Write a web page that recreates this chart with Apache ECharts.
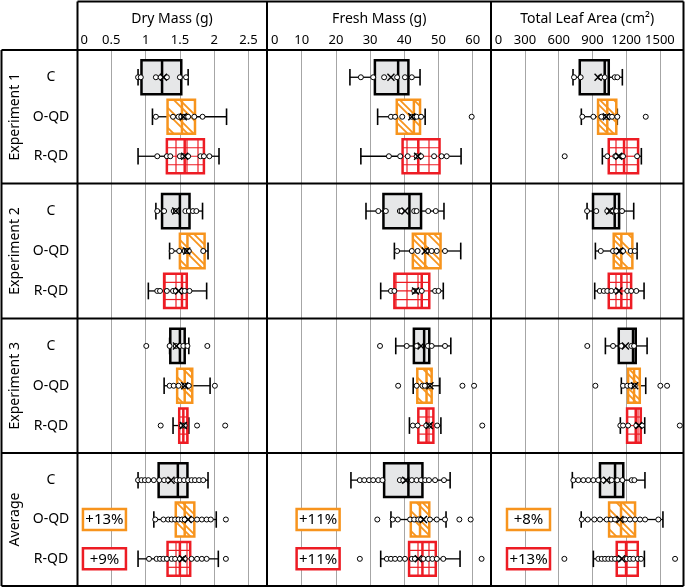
<!DOCTYPE html>
<html><head><meta charset="utf-8">
<script src="https://cdn.jsdelivr.net/npm/echarts@6/dist/echarts.min.js"></script>
<style>html,body{margin:0;padding:0;background:#fff}#c{width:685px;height:588px}</style>
</head><body><div id="c"></div>
<script>
// ---------- data ----------
const categories = ['C', 'O-QD', 'R-QD'];
const rowNames = ['Experiment 1', 'Experiment 2', 'Experiment 3', 'Average'];
const columnTitles = ['Dry Mass (g)', 'Fresh Mass (g)', 'Total Leaf Area (cm²)'];
const dryTicks = [0, 0.5, 1, 1.5, 2, 2.5];
const freshTicks = [0, 10, 20, 30, 40, 50, 60];
const leafTicks = [0, 300, 600, 900, 1200, 1500];

// box stats per group: [lower whisker, Q1, median, Q3, upper whisker]
const dryExp1Box = [[0.89,0.94,1.24,1.52,1.62],[1.10,1.32,1.53,1.72,2.18],[0.89,1.31,1.57,1.85,2.07]];
const dryExp1Mean = [1.26, 1.55, 1.57];
const dryExp1Pts = [[0.89,0.93,1.15,1.22,1.31,1.50,1.59],[1.15,1.40,1.48,1.52,1.56,1.62,1.71,1.83],[1.17,1.31,1.36,1.50,1.55,1.62,1.80,1.85,1.93]];
const dryExp2Box = [[1.15,1.24,1.50,1.64,1.83],[1.35,1.50,1.61,1.86,1.91],[1.04,1.27,1.53,1.60,1.89]];
const dryExp2Mean = [1.44, 1.60, 1.48];
const dryExp2Pts = [[1.17,1.27,1.41,1.44,1.58,1.63,1.69,1.74],[1.38,1.49,1.57,1.60,1.63,1.84],[1.17,1.21,1.31,1.40,1.44,1.53,1.57,1.64]];
const dryExp3Box = [[1.35,1.36,1.50,1.57,1.63],[1.27,1.46,1.57,1.68,1.94],[1.40,1.49,1.55,1.61,1.63]];
const dryExp3Mean = [1.45, 1.57, 1.55];
const dryExp3Pts = [[1.01,1.35,1.44,1.50,1.55,1.61,1.90],[1.35,1.41,1.48,1.57,1.63,2.01],[1.22,1.53,1.57,1.75,2.16]];
const dryAvgBox = [[0.89,1.19,1.47,1.61,1.91],[1.12,1.44,1.57,1.71,2.03],[0.89,1.32,1.50,1.65,2.06]];
const dryAvgMean = [1.37, 1.62, 1.54];
const dryAvgPts = [[0.89,0.94,0.99,1.04,1.12,1.20,1.27,1.33,1.45,1.50,1.56,1.62,1.67,1.72,1.78,1.84],[1.14,1.26,1.33,1.38,1.43,1.48,1.53,1.57,1.67,1.75,1.82,1.89,1.95,2.17],[1.05,1.16,1.21,1.26,1.31,1.38,1.43,1.50,1.57,1.67,1.75,1.82,1.89,2.17]];

const freshExp1Box = [[24.1,31.4,38.2,41.2,44.6],[32.2,37.8,42.8,44.6,46.1],[27.3,39.5,44.1,50.3,56.6]];
const freshExp1Mean = [36.1, 42.2, 43.9];
const freshExp1Pts = [[27.3,30.9,34.1,37.9,40.2,42.2],[36.1,37.3,39.4,42.2,43.0,43.6,44.9,59.7],[35.5,38.8,41.0,43.6,44.9,48.7,50.9,52.4]];
const freshExp2Box = [[28.8,33.9,41.5,44.9,51.6],[37.1,42.5,46.1,50.6,56.5],[33.1,37.1,45.1,47.3,51.4]];
const freshExp2Mean = [40.2, 46.1, 43.3];
const freshExp2Pts = [[32.4,34.6,38.7,39.2,42.9,43.6,47.0,49.2],[37.9,42.2,43.9,46.5,48.0,49.5,51.9],[36.1,37.1,42.9,43.9,45.1,49.0,50.0]];
const freshExp3Box = [[37.5,42.8,45.8,47.3,53.6],[42.6,43.8,46.5,48.0,50.4],[41.5,44.1,46.5,48.5,50.7]];
const freshExp3Mean = [44.9, 47.5, 47.3];
const freshExp3Pts = [[32.9,40.7,43.6,46.9,48.0,51.9],[38.2,43.6,45.3,46.0,47.5,57.0,60.4],[42.5,43.9,46.4,47.3,49.6,62.8]];
const freshAvgBox = [[24.4,34.1,41.2,45.3,53.4],[36.1,41.9,44.6,47.3,52.2],[33.1,41.4,45.3,49.2,56.3]];
const freshAvgMean = [40.4, 45.6, 44.1];
const freshAvgPts = [[27.0,28.3,29.7,30.9,32.4,33.6,38.7,39.7,42.2,43.6,44.9,46.1,47.2,49.0,51.6],[32.1,36.6,38.1,41.7,42.9,44.1,44.9,47.5,49.5,51.9,56.1,59.4],[27.0,34.9,36.1,37.3,38.7,40.2,42.2,43.1,45.6,47.0,48.2,49.5,51.4,62.6]];

const leafExp1Box = [[727,787,1009,1045,1166],[801,950,1032,1112,1121],[988,1045,1181,1306,1335]];
const leafExp1Mean = [950, 1023, 1134];
const leafExp1Pts = [[736,795,970,1009,1098,1121],[810,908,979,1023,1050,1074,1121,1374],[653,1032,1103,1112,1157,1172,1297]];
const leafExp2Box = [[852,905,1098,1137,1267],[926,1089,1157,1255,1297],[920,1045,1157,1244,1359]];
const leafExp2Mean = [1054, 1143, 1134];
const leafExp2Pts = [[852,934,1032,1067,1112,1163],[974,1083,1112,1157,1172,1240,1276],[965,1001,1032,1068,1112,1210,1245,1290]];
const leafExp3Box = [[1015,1134,1261,1285,1386],[1157,1217,1270,1321,1374],[1148,1208,1285,1330,1365]];
const leafExp3Mean = [1193, 1276, 1312];
const leafExp3Pts = [[854,1083,1157,1246,1270],[926,1172,1210,1240,1276,1504,1564],[1148,1172,1217,1290,1341,1677]];
const leafAvgBox = [[721,967,1101,1174,1367],[800,1048,1154,1279,1527],[908,1116,1199,1303,1362]];
const leafAvgMean = [1027, 1145, 1160];
const leafAvgPts = [[730,774,819,863,908,952,997,1071,1121,1166,1249,1273],[805,858,917,967,1027,1065,1101,1190,1234,1279,1323,1368,1486],[650,952,983,1012,1041,1071,1101,1137,1205,1234,1264,1303,1332,1635]];

// percentage change labels (O-QD, R-QD) in the Average row
const dryPct = ['+13%', '+9%'];
const freshPct = ['+11%', '+11%'];
const leafPct = ['+8%', '+13%'];

// ---------- layout / style ----------
const FONT = 'Noto Sans';
const colLeft = [77, 267.5, 491.3];
const colRight = [267, 491, 683];
const pxPerUnit = [68.6, 3.42, 0.1124];
const colTicks = [dryTicks, freshTicks, leafTicks];
const colInterval = [0.5, 10, 300];
const pctPos = [0.4, 14.8, 331];           // label centre in axis units
const pctTexts = [dryPct, freshPct, leafPct];
const rowTop = [50, 183.5, 318.5, 453];
const rowBottom = [183.5, 318.5, 453, 586];
const FX = [77.5, 267, 491, 683.5];
const FY = [50, 183.5, 318.5, 453, 586];
const boxStroke = ['#000000', '#f7941d', '#ed1c24'];
const boxFill = ['#e6e7e8', '#ffffff', '#ffffff'];

const panels = [
  [[dryExp1Box, dryExp1Mean, dryExp1Pts], [dryExp2Box, dryExp2Mean, dryExp2Pts], [dryExp3Box, dryExp3Mean, dryExp3Pts], [dryAvgBox, dryAvgMean, dryAvgPts]],
  [[freshExp1Box, freshExp1Mean, freshExp1Pts], [freshExp2Box, freshExp2Mean, freshExp2Pts], [freshExp3Box, freshExp3Mean, freshExp3Pts], [freshAvgBox, freshAvgMean, freshAvgPts]],
  [[leafExp1Box, leafExp1Mean, leafExp1Pts], [leafExp2Box, leafExp2Mean, leafExp2Pts], [leafExp3Box, leafExp3Mean, leafExp3Pts], [leafAvgBox, leafAvgMean, leafAvgPts]]
];

function renderBox(params, api) {
  const cat = api.value(0);
  const v = [1, 2, 3, 4, 5].map(i => api.value(i));
  const p = v.map(x => api.coord([x, cat]));
  const unit = Math.abs(api.size([0, 1])[1]);
  const cy = p[0][1];
  const hh = unit * 0.43, cap = unit * 0.21;
  const x1 = p[1][0], x2 = p[3][0], y1 = cy - hh, y2 = cy + hh;
  const col = boxStroke[cat];
  const ch = [];
  const wl = { stroke: '#000', lineWidth: 1.3 };
  ch.push({ type: 'line', shape: { x1: p[0][0], y1: cy, x2: x1, y2: cy }, style: wl });
  ch.push({ type: 'line', shape: { x1: x2, y1: cy, x2: p[4][0], y2: cy }, style: wl });
  ch.push({ type: 'line', shape: { x1: p[0][0], y1: cy - cap, x2: p[0][0], y2: cy + cap }, style: { stroke: '#000', lineWidth: 1.6 } });
  ch.push({ type: 'line', shape: { x1: p[4][0], y1: cy - cap, x2: p[4][0], y2: cy + cap }, style: { stroke: '#000', lineWidth: 1.6 } });
  ch.push({ type: 'rect', shape: { x: x1, y: y1, width: x2 - x1, height: y2 - y1 }, style: { fill: boxFill[cat] } });
  if (cat === 1) {
    const s = 20;
    const cMin = Math.floor((y1 - x2) / s) * s - s, cMax = y2 - x1;
    for (let c0 = cMin; c0 <= cMax; c0 += s) {
      [c0, c0 + 6].forEach(c => {
        const xs = Math.max(x1, y1 - c), xe = Math.min(x2, y2 - c);
        if (xe > xs) ch.push({ type: 'line', shape: { x1: xs, y1: xs + c, x2: xe, y2: xe + c }, style: { stroke: col, lineWidth: 1.8 } });
      });
    }
  }
  if (cat === 2) {
    for (let k = 1; k < 4; k++) {
      const yy = y1 + (y2 - y1) * k / 4;
      ch.push({ type: 'line', shape: { x1: x1, y1: yy, x2: x2, y2: yy }, style: { stroke: col, lineWidth: 1.2 } });
    }
    const g = 11;
    for (let gx = Math.ceil(x1 / g) * g; gx < x2; gx += g) {
      ch.push({ type: 'line', shape: { x1: gx, y1: y1, x2: gx, y2: y2 }, style: { stroke: col, lineWidth: 1.2 } });
    }
  }
  ch.push({ type: 'line', shape: { x1: p[2][0], y1: y1, x2: p[2][0], y2: y2 }, style: { stroke: col, lineWidth: 2.5 } });
  ch.push({ type: 'rect', shape: { x: x1, y: y1, width: x2 - x1, height: y2 - y1 }, style: { fill: 'none', stroke: col, lineWidth: 2.5 } });
  return { type: 'group', children: ch };
}

function renderMean(params, api) {
  const p = api.coord([api.value(0), api.value(1)]);
  const d = 3.5;
  const st = { stroke: '#000', lineWidth: 1.4 };
  return { type: 'group', children: [
    { type: 'line', shape: { x1: p[0] - d, y1: p[1] - d, x2: p[0] + d, y2: p[1] + d }, style: st },
    { type: 'line', shape: { x1: p[0] - d, y1: p[1] + d, x2: p[0] + d, y2: p[1] - d }, style: st }
  ] };
}

const grids = [], xAxes = [], yAxes = [], series = [];
for (let c = 0; c < 3; c++) {
  for (let r = 0; r < 4; r++) {
    const gi = grids.length;
    const width = colRight[c] - colLeft[c];
    grids.push({ left: colLeft[c], top: rowTop[r], width: width, height: rowBottom[r] - rowTop[r], containLabel: false, outerBoundsMode: 'none' });
    const ticks = colTicks[c];
    xAxes.push({
      gridIndex: gi, type: 'value', position: 'top', min: 0, max: width / pxPerUnit[c], interval: colInterval[c],
      axisLine: { show: false }, axisTick: { show: false },
      axisLabel: { show: r === 0, fontFamily: FONT, fontSize: 13, color: '#000', margin: 3, showMaxLabel: false, alignMinLabel: 'left',
        formatter: v => ticks.indexOf(v) >= 0 ? (v === 0 ? ' 0' : String(v)) : '' },
      splitLine: { show: true, lineStyle: { color: '#a6a6a6', width: 1 } },
      name: r === 0 ? columnTitles[c] : '', nameLocation: 'middle', nameGap: 24,
      nameTextStyle: { fontFamily: FONT, fontSize: 14, color: '#000' }
    });
    yAxes.push({
      gridIndex: gi, type: 'value', min: -0.69, max: 2.69, inverse: true,
      axisLine: { show: false }, axisTick: { show: false }, splitLine: { show: false },
      axisLabel: { show: c === 0, customValues: [0, 1, 2], formatter: v => categories[v] || '', align: 'center', margin: 26,
        fontFamily: FONT, fontSize: 14, color: '#000' },
      name: c === 0 ? rowNames[r] : '', nameLocation: 'middle', nameRotate: 90, nameGap: 55,
      nameTextStyle: { fontFamily: FONT, fontSize: 14, color: '#000' }
    });
    const [box, mean, pts] = panels[c][r];
    series.push({
      type: 'custom', xAxisIndex: gi, yAxisIndex: gi, z: 2, clip: false, silent: true,
      renderItem: renderBox, encode: { x: [1, 2, 3, 4, 5], y: 0 },
      data: box.map((b, k) => [k, b[0], b[1], b[2], b[3], b[4]])
    });
    const sp = [];
    pts.forEach((arr, k) => arr.forEach(v => sp.push([v, k])));
    series.push({
      type: 'scatter', xAxisIndex: gi, yAxisIndex: gi, z: 3, silent: true, symbol: 'circle', symbolSize: 5,
      itemStyle: { color: '#fff', borderColor: '#000', borderWidth: 1, opacity: 1 }, data: sp
    });
    series.push({
      type: 'custom', xAxisIndex: gi, yAxisIndex: gi, z: 4, silent: true, clip: false,
      renderItem: renderMean, encode: { x: 0, y: 1 }, data: mean.map((m, k) => [m, k])
    });
    if (r === 3) {
      const texts = pctTexts[c];
      series.push({
        type: 'custom', xAxisIndex: gi, yAxisIndex: gi, z: 5, silent: true, clip: false,
        encode: { x: 0, y: 1 },
        data: [[pctPos[c], 1], [pctPos[c], 2]],
        renderItem: (params, api) => {
          const cat = api.value(1);
          const p = api.coord([api.value(0), cat]);
          return { type: 'group', children: [
            { type: 'rect', shape: { x: p[0] - 21.5, y: p[1] - 10.5, width: 43, height: 21 }, style: { fill: '#fff', stroke: boxStroke[cat], lineWidth: 2.5 } },
            { type: 'text', style: { x: p[0], y: p[1] + 0.5, text: texts[params.dataIndex], align: 'center', verticalAlign: 'middle', fontFamily: FONT, fontSize: 15, fill: '#000' } }
          ] };
        }
      });
    }
  }
}

const frame = [];
const ls = { stroke: '#000', lineWidth: 2 };
frame.push({ type: 'line', shape: { x1: FX[0], y1: 1.5, x2: FX[3], y2: 1.5 }, style: ls });
FX.forEach(x => frame.push({ type: 'line', shape: { x1: x, y1: 1.5, x2: x, y2: FY[4] }, style: ls }));
frame.push({ type: 'line', shape: { x1: 1.5, y1: FY[0], x2: 1.5, y2: FY[4] }, style: ls });
FY.forEach(y => frame.push({ type: 'line', shape: { x1: 1.5, y1: y, x2: FX[3], y2: y }, style: ls }));

const chart = echarts.init(document.getElementById('c'), null, { renderer: 'canvas', width: 685, height: 588 });
chart.setOption({
  animation: false,
  backgroundColor: '#fff',
  grid: grids, xAxis: xAxes, yAxis: yAxes, series: series,
  graphic: { elements: frame.map(e => Object.assign({ z: 100, silent: true }, e)) }
});
</script></body></html>
